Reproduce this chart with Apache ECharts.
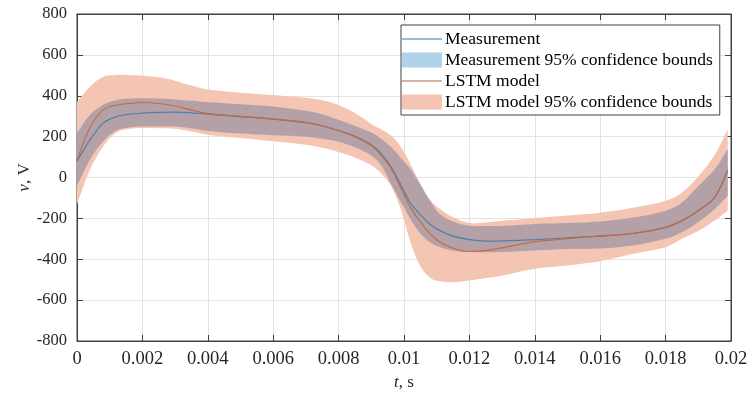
<!DOCTYPE html>
<html>
<head>
<meta charset="utf-8">
<script src="https://cdn.jsdelivr.net/npm/echarts@6/dist/echarts.min.js"></script>
<style>
html,body{margin:0;padding:0;background:#fff;}
#chart{width:751px;height:396px;}
</style>
</head>
<body>
<div id="chart"></div>
<script>
const time = [0, 0.0004, 0.0008, 0.0012, 0.0016, 0.002, 0.0025, 0.003, 0.0035, 0.004, 0.005, 0.006, 0.007, 0.0075, 0.008, 0.0085, 0.009, 0.0093, 0.0096, 0.0099, 0.0102, 0.0105, 0.0108, 0.0111, 0.0115, 0.012, 0.0125, 0.013, 0.014, 0.015, 0.016, 0.017, 0.018, 0.0185, 0.019, 0.0195, 0.0199];
const measurement = [80,185,266,298,310,315,319,320,316,310,298,286,268,252,230,202,160,117,54,-35,-125,-182,-230,-260,-287,-304,-311,-310,-304,-295,-287,-274,-244,-211,-163,-97,33];
const lstm = [85,245,331,354,362,367,362,350,330,313,299,287,270,253,229,199,157,110,46,-50,-146,-217,-275,-317,-346,-362,-358,-344,-314,-299,-286,-273,-244,-211,-163,-97,38];
const measUpper = [218,307,356,378,386,388,386,382,375,369,358,347,326,310,282,252,220,190,150,97,40,-36,-115,-179,-215,-236,-237,-236,-227,-223,-215,-196,-163,-122,-41,40,138];
const measLower = [-42,88,177,230,245,250,251,249,240,228,215,207,200,190,175,148,108,60,-30,-118,-204,-274,-318,-341,-358,-365,-366,-365,-357,-350,-348,-333,-300,-268,-219,-154,-90];
const lstmUpper = [370,445,493,502,502,498,490,474,450,430,415,404,390,378,355,315,262,236,205,150,65,-30,-110,-154,-195,-223,-220,-212,-198,-186,-172,-148,-114,-73,5,110,235];
const lstmLower = [-131,39,152,220,238,242,241,238,225,209,193,177,160,145,125,97,60,20,-40,-154,-317,-434,-490,-508,-512,-504,-492,-481,-447,-430,-410,-373,-341,-300,-262,-211,-163];
const legendNames = ['Measurement', 'Measurement 95% confidence bounds', 'LSTM model', 'LSTM model 95% confidence bounds'];

const pairs = arr => arr.map((v, i) => [time[i], v]);

const FONT = 'Liberation Serif';
const C_SALMON = '#f5c5b3';
const C_OVER = '#b4a1a8';
const C_BLUEPATCH = '#b0d2ea';
const C_BLUE = '#4f7fa8';
const C_ORANGE = '#c46a45';
const SM = 0.3;

function bandSeries(name, upper, lower, color, z) {
  return {
    name: name, type: 'custom', z: z, silent: true, clip: true,
    itemStyle: {color: color},
    data: time.map((t, i) => [t, upper[i], lower[i]]),
    encode: {x: 0, y: [1, 2]},
    renderItem: function (params, api) {
      if (params.dataIndex !== 0) return null;
      const pts = [];
      const n = time.length;
      const u0 = api.coord([time[0], upper[0]]);
      pts.push(u0, u0.slice());
      for (let i = 1; i < n - 1; i++) pts.push(api.coord([time[i], upper[i]]));
      const un = api.coord([time[n - 1], upper[n - 1]]);
      pts.push(un, un.slice());
      const ln = api.coord([time[n - 1], lower[n - 1]]);
      pts.push(ln, ln.slice());
      for (let i = n - 2; i > 0; i--) pts.push(api.coord([time[i], lower[i]]));
      const l0 = api.coord([time[0], lower[0]]);
      pts.push(l0, l0.slice());
      return {type: 'polygon', shape: {points: pts, smooth: 0.35}, style: {fill: color, stroke: null}};
    }
  };
}

const axisLineStyle = {show: true, onZero: false, lineStyle: {color: '#404040'}};
const tickStyle = {show: true, inside: true, length: 6, lineStyle: {color: '#404040'}};
const nameStyle = {fontFamily: FONT, fontSize: 17, color: '#262626', rich: {it: {fontStyle: 'italic', fontFamily: FONT, fontSize: 17, color: '#262626'}}};

const chart = echarts.init(document.getElementById('chart'), null, {renderer: 'canvas'});
chart.setOption({
  animation: false,
  backgroundColor: '#fff',
  grid: {left: 77, right: 20, top: 14, bottom: 54, show: true, borderColor: '#404040', borderWidth: 1, backgroundColor: 'transparent'},
  legend: {
    orient: 'vertical', left: 401, top: 25,
    padding: [5, 7, 4, 1],
    backgroundColor: '#fff', borderColor: '#404040', borderWidth: 1,
    itemWidth: 40, itemHeight: 15, itemGap: 3,
    symbolKeepAspect: true,
    textStyle: {fontFamily: FONT, fontSize: 17.5, color: '#000', padding: [0, 0, 0, -2]},
    selectedMode: false,
    data: [
      {name: legendNames[0], icon: 'path://M0,0H40V1.3H0Z', itemStyle: {color: '#7aa3c6'}},
      {name: legendNames[1], icon: 'rect', itemStyle: {color: C_BLUEPATCH}},
      {name: legendNames[2], icon: 'path://M0,0H40V1.3H0Z', itemStyle: {color: '#d69a80'}},
      {name: legendNames[3], icon: 'rect', itemStyle: {color: C_SALMON}}
    ]
  },
  xAxis: [{
    type: 'value', min: 0, max: 0.02, interval: 0.002,
    name: '{it|t}, s', nameLocation: 'middle', nameGap: 33, nameMoveOverlap: false,
    nameTextStyle: nameStyle,
    axisLine: axisLineStyle, axisTick: tickStyle,
    axisLabel: {fontFamily: FONT, fontSize: 18.5, color: '#262626', margin: 9, formatter: v => String(+v.toFixed(4))},
    splitLine: {show: true, lineStyle: {color: '#e3e3e3', width: 1}}
  }, {
    type: 'value', position: 'top', min: 0, max: 0.02, interval: 0.002,
    axisLine: axisLineStyle, axisTick: tickStyle,
    axisLabel: {show: false}, splitLine: {show: false}
  }],
  yAxis: [{
    type: 'value', min: -800, max: 800, interval: 200,
    name: '{it|v}, V', nameLocation: 'middle', nameGap: 44, nameMoveOverlap: false,
    nameTextStyle: nameStyle,
    axisLine: axisLineStyle, axisTick: tickStyle,
    axisLabel: {fontFamily: FONT, fontSize: 16.5, color: '#262626', margin: 10},
    splitLine: {show: true, lineStyle: {color: '#e3e3e3', width: 1}}
  }, {
    type: 'value', position: 'right', min: -800, max: 800, interval: 200,
    axisLine: axisLineStyle, axisTick: tickStyle,
    axisLabel: {show: false}, splitLine: {show: false}
  }],
  series: [
    bandSeries(legendNames[3], lstmUpper, lstmLower, C_SALMON, 1),
    bandSeries(legendNames[1], measUpper, measLower, C_OVER, 2),
    {name: legendNames[0], type: 'line', data: pairs(measurement), symbol: 'none', smooth: SM, itemStyle: {color: C_BLUE}, lineStyle: {color: C_BLUE, width: 1.2}, z: 3},
    {name: legendNames[2], type: 'line', data: pairs(lstm), symbol: 'none', smooth: SM, itemStyle: {color: C_ORANGE}, lineStyle: {color: C_ORANGE, width: 1.2}, z: 4}
  ]
});
</script>
</body>
</html>
